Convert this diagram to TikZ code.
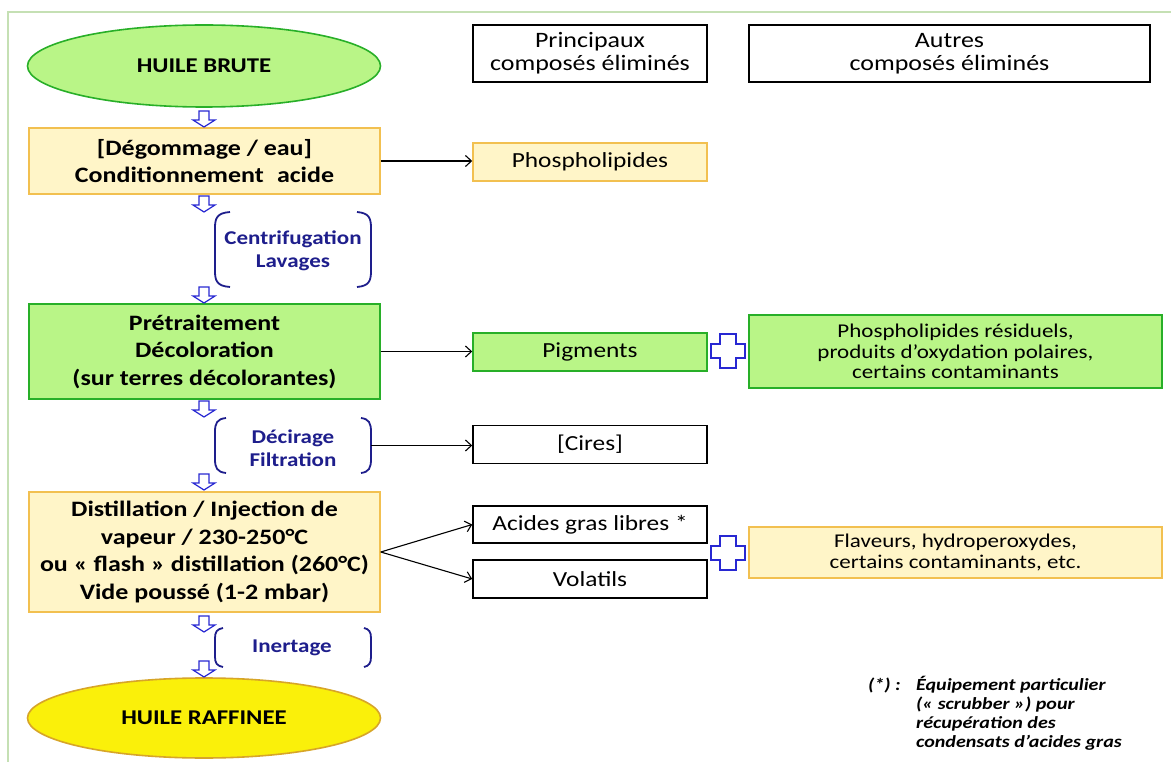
\documentclass[tikz,border=0pt]{standalone}
\usepackage{fontspec}
\setmainfont{Carlito}[FakeStretch=1.18]
\usetikzlibrary{arrows.meta,shapes.geometric}
\definecolor{frameg}{RGB}{197,224,180}
\definecolor{gfill}{RGB}{185,245,135}
\definecolor{gdraw}{RGB}{40,175,40}
\definecolor{yfill}{RGB}{255,245,200}
\definecolor{ydraw}{RGB}{242,192,80}
\definecolor{efill}{RGB}{250,240,10}
\definecolor{edraw}{RGB}{215,165,40}
\definecolor{navy}{RGB}{30,30,140}
\definecolor{ablue}{RGB}{40,40,210}
\tikzset{
  mainbox/.style={rectangle, minimum width=351, align=center, inner sep=0, line width=1.5,
    font=\bfseries\fontsize{22}{27.5}\selectfont},
  yelbox/.style={mainbox, fill=yfill, draw=ydraw},
  grnbox/.style={mainbox, fill=gfill, draw=gdraw},
  oval/.style={ellipse, minimum width=353, inner sep=0, line width=1.6,
    font=\bfseries\fontsize{21}{25}\selectfont},
  outbox/.style={rectangle, minimum width=234, minimum height=38, inner sep=0, align=center,
    line width=1.5, font=\fontsize{21.5}{26}\selectfont},
  bwbox/.style={outbox, draw=black, fill=white},
  otherbox/.style={rectangle, minimum width=413, inner sep=0, align=center, line width=1.5,
    font=\fontsize{19.5}{20.5}\selectfont},
  headbox/.style={rectangle, draw=black, fill=white, line width=1.8, minimum height=57,
    inner sep=0, align=center, font=\fontsize{22}{23}\selectfont},
  steplabel/.style={align=center, text=navy, inner sep=0, font=\bfseries\fontsize{19.5}{23.5}\selectfont},
  brk/.style={draw=navy, line width=1.8},
  conn/.style={draw=black, line width=1.1, -{Straight Barb[length=6,width=11]}},
  note/.style={anchor=base west, inner sep=0, font=\bfseries\itshape\fontsize{17}{19}\selectfont},
  harrow/.pic={\draw[ablue, line width=1.2, fill=white] (-5,0) -- (5,0) -- (5,9) -- (11,9)
    -- (0,16) -- (-11,9) -- (-5,9) -- cycle;},
  plus/.pic={\draw[ablue, line width=2, fill=white] (-8,-17) -- (8,-17) -- (8,-7) -- (17,-7)
    -- (17,7) -- (8,7) -- (8,17) -- (-8,17) -- (-8,7) -- (-17,7) -- (-17,-7) -- (-8,-7) -- cycle;}
}
\begin{document}
\begin{tikzpicture}[x=1pt,y=-1pt]
\useasboundingbox (0,0) rectangle (1171,762);
\fill[white] (0,0) rectangle (1171,762);
\draw[frameg, line width=2.5] (1171,12) -- (8,12) -- (8,762);

% headers
\node[headbox, minimum width=234] (h1) at (590,53.5) {Principaux\\composés éliminés};
\node[headbox, minimum width=401] (h2) at (949.5,53.5) {Autres\\composés éliminés};

% main column
\node[oval, fill=gfill, draw=gdraw, minimum height=82] (brute) at (204,66) {HUILE BRUTE};
\node[yelbox, minimum height=66] (deg) at (204.5,161) {[Dégommage / eau]\\Conditionnement\hspace{0.6em}acide};
\node[grnbox, minimum height=95] (pre) at (204.5,351.5) {Prétraitement\\Décoloration\\(sur terres décolorantes)};
\node[yelbox, minimum height=120] (dist) at (204.5,552) {Distillation / Injection de\\vapeur / 230-250°C\\ou « flash » distillation (260°C)\\Vide poussé (1-2 mbar)};
\node[oval, fill=efill, draw=edraw, minimum height=80] (raff) at (204,718) {HUILE RAFFINEE};

% hollow arrows
\pic at (204,111) {harrow};
\pic at (204,196) {harrow};
\pic at (204,287) {harrow};
\pic at (204,401) {harrow};
\pic at (204,474) {harrow};
\pic at (204,616) {harrow};
\pic at (204,661) {harrow};

% step labels with brackets
\node[steplabel] (cent) at (293,251) {Centrifugation\\Lavages};
\draw[brk] (230,212) .. controls (217,213) and (215,218) .. (215,228) -- (215,271) .. controls (215,281) and (217,286) .. (230,287);
\draw[brk] (357,212) .. controls (369,213) and (371,218) .. (371,228) -- (371,271) .. controls (371,281) and (369,286) .. (357,287);

\node[steplabel] (dec) at (293,448) {Décirage\\Filtration};
\draw[brk] (226,418) .. controls (217,419) and (215,423) .. (215,432) -- (215,459) .. controls (215,468) and (217,472) .. (226,473);
\draw[brk] (361,418) .. controls (369,419) and (371,423) .. (371,432) -- (371,459) .. controls (371,468) and (369,472) .. (361,473);
\coordinate (decr) at (371,445.5);

\node[steplabel] (inert) at (292,648) {Inertage};
\draw[brk] (223,628) .. controls (217,629) and (215,632) .. (215,638) -- (215,657) .. controls (215,663) and (217,666) .. (223,667);
\draw[brk] (364,628) .. controls (369,629) and (371,632) .. (371,638) -- (371,657) .. controls (371,663) and (369,666) .. (364,667);

% outputs
\node[outbox, fill=yfill, draw=ydraw] (phos) at (590,162) {Phospholipides};
\node[outbox, fill=gfill, draw=gdraw] (pig) at (590,352) {Pigments};
\node[bwbox] (cires) at (590,444.5) {[Cires]};
\node[bwbox, minimum height=37] (acid) at (590,524.5) {Acides gras libres *};
\node[bwbox] (vol) at (590,579) {Volatils};

\node[otherbox, fill=gfill, draw=gdraw, minimum height=73] (resid) at (955.5,351.5) {Phospholipides résiduels,\\produits d’oxydation polaires,\\certains contaminants};
\node[otherbox, fill=yfill, draw=ydraw, minimum height=51] (flav) at (955.5,552.5) {Flaveurs, hydroperoxydes,\\certains contaminants, etc.};

\pic at (728,351) {plus};
\pic at (728,553) {plus};

% connectors
\draw[conn] (deg.east) -- (deg.east -| phos.west);
\draw[conn] (pre.east) -- (pre.east -| pig.west);
\draw[conn] (decr) -- (decr -| cires.west);
\draw[conn] (dist.east) -- (acid.west);
\draw[conn] (dist.east) -- (vol.west);

% footnote
\node[note] (fn0) at (868,690) {(*) :};
\node[note] (fn1) at (916,690) {Équipement particulier};
\node[note] (fn2) at (916,709) {(« scrubber ») pour};
\node[note] (fn3) at (916,728) {récupération des};
\node[note] (fn4) at (916,747) {condensats d’acides gras};
\end{tikzpicture}
\end{document}
